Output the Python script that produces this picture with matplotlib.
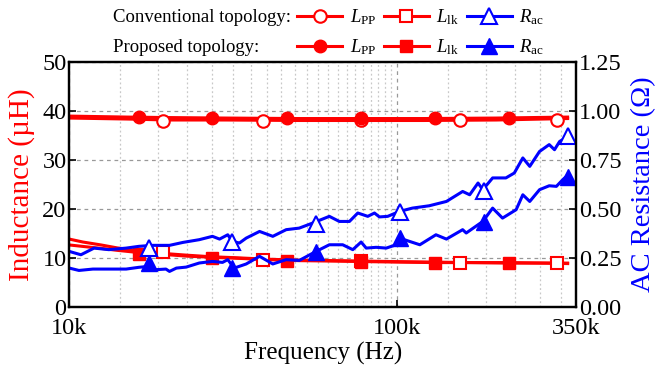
import matplotlib
matplotlib.use('Agg')
import matplotlib.pyplot as plt
from matplotlib.lines import Line2D
from matplotlib.ticker import FixedLocator, NullFormatter
import numpy as np

plt.rcParams['font.family'] = ['Liberation Serif', 'DejaVu Serif']
plt.rcParams['mathtext.fontset'] = 'custom'
plt.rcParams['mathtext.rm'] = 'Liberation Serif'
plt.rcParams['mathtext.it'] = 'Liberation Serif:italic'

# Inductance lines (kHz, uH)
lpp_f = [10, 15, 20, 30, 50, 80, 120, 200, 330]
lpp_conv = [38.5, 38.3, 38.1, 38.1, 38.0, 38.0, 38.0, 38.1, 38.4]
lpp_prop = [38.9, 38.7, 38.6, 38.5, 38.4, 38.4, 38.4, 38.5, 38.7]

llk_f = [10, 11, 12.5, 14, 16, 18, 20, 23, 27, 32, 40, 50, 65, 80, 100, 130, 170, 220, 280, 330]
llk_conv = [13.8, 13.2, 12.6, 12.0, 11.5, 11.1, 10.8, 10.5, 10.2, 10.0, 9.7, 9.5, 9.4, 9.3, 9.2, 9.1, 9.0, 9.0, 8.9, 8.9]
llk_prop = [12.6, 12.3, 11.9, 11.5, 11.1, 10.8, 10.6, 10.3, 10.1, 9.9, 9.6, 9.4, 9.3, 9.2, 9.1, 9.0, 9.0, 8.9, 8.9, 8.8]

# AC resistance (kHz, ohm)
rac_conv_f = [10.0, 10.85, 11.9, 13.2, 14.9, 16.3, 17.9, 20.2, 22.2, 24.9, 27.3, 28.7, 30.4, 31.4,
              33.0, 34.6, 38.0, 41.7, 45.8, 50.2, 55.2, 62, 66.5, 71.4, 75.7, 81.2, 85.1, 88.1,
              93.4, 101.4, 111, 125, 141, 158, 166, 176, 182, 195, 214, 227, 241, 253, 271,
              290, 301, 312, 331]
rac_conv = [0.282, 0.265, 0.299, 0.291, 0.299, 0.308, 0.313, 0.313, 0.328, 0.342, 0.359, 0.345,
            0.367, 0.333, 0.325, 0.350, 0.384, 0.359, 0.393, 0.401, 0.427, 0.461, 0.435, 0.435,
            0.478, 0.461, 0.478, 0.458, 0.461, 0.486, 0.503, 0.515, 0.537, 0.588, 0.571, 0.631,
            0.597, 0.657, 0.657, 0.682, 0.759, 0.716, 0.792, 0.827, 0.801, 0.843, 0.869]

rac_prop_f = [10.0, 10.7, 11.8, 13.2, 14.9, 16.3, 17.5, 18.4, 19.7, 20.2, 21.2, 22.7, 24.9, 27.3,
              29.3, 30.4, 31.8, 34.6, 38.0, 41.7, 45.8, 50.2, 56.5, 62, 68.1, 73.1, 77.5, 80.3,
              86.1, 92.4, 99.1, 101.4, 117, 131, 141, 158, 162, 182, 195, 209, 230, 241, 253,
              271, 290, 305, 319, 331]
rac_prop = [0.197, 0.185, 0.192, 0.192, 0.192, 0.201, 0.206, 0.189, 0.192, 0.180, 0.197, 0.202,
            0.223, 0.231, 0.226, 0.240, 0.197, 0.218, 0.257, 0.218, 0.240, 0.236, 0.282, 0.316,
            0.316, 0.291, 0.330, 0.299, 0.303, 0.299, 0.316, 0.350, 0.316, 0.367, 0.345, 0.393,
            0.376, 0.435, 0.503, 0.452, 0.495, 0.571, 0.537, 0.597, 0.617, 0.614, 0.648, 0.673]

# marker samples
mk_conv_f = [19.3, 38.8, 77.7, 155, 307]
mk_lpp_conv = [37.8, 37.9, 38.0, 38.0, 38.2]
mk_llk_conv = [11.2, 9.6, 9.3, 9.0, 9.0]
mk_prop_f = [16.3, 27.3, 46, 77.7, 130, 218]
mk_lpp_prop = [38.8, 38.6, 38.5, 38.5, 38.5, 38.6]
mk_llk_prop = [10.8, 10.0, 9.4, 9.2, 9.0, 8.9]
mk_rac_f = [17.5, 31.4, 56.6, 102, 183, 330]
mk_rac_conv = [0.30, 0.33, 0.42, 0.485, 0.59, 0.87]
mk_rac_prop = [0.225, 0.20, 0.28, 0.35, 0.43, 0.66]

hz = lambda v: np.array(v) * 1e3

fig = plt.figure(figsize=(6.62, 3.68), dpi=100)
ax = fig.add_axes([69.3 / 662, 1 - 306.7 / 368, (576 - 69.3) / 662, (306.7 - 61.7) / 368])
ax2 = ax.twinx()

red = '#ff0000'
blue = '#0000ff'
lw = 2.2

ax.plot(hz(lpp_f), lpp_conv, color=red, lw=lw)
ax.plot(hz(lpp_f), lpp_prop, color=red, lw=lw)
ax.plot(hz(llk_f), llk_conv, color=red, lw=lw)
ax.plot(hz(llk_f), llk_prop, color=red, lw=lw)
ax.plot(hz(mk_conv_f), mk_lpp_conv, ls='none', marker='o', ms=9, mfc='white', mec=red, mew=1.5)
ax.plot(hz(mk_prop_f), mk_lpp_prop, ls='none', marker='o', ms=9, mfc=red, mec=red)
ax.plot(hz(mk_conv_f), mk_llk_conv, ls='none', marker='s', ms=8, mfc='white', mec=red, mew=1.5)
ax.plot(hz(mk_prop_f), mk_llk_prop, ls='none', marker='s', ms=8, mfc=red, mec=red)

ax2.plot(hz(rac_conv_f), rac_conv, color=blue, lw=lw)
ax2.plot(hz(rac_prop_f), rac_prop, color=blue, lw=lw)
ax2.plot(hz(mk_rac_f), mk_rac_conv, ls='none', marker='^', ms=11, mfc='white', mec=blue, mew=1.5)
ax2.plot(hz(mk_rac_f), mk_rac_prop, ls='none', marker='^', ms=11, mfc=blue, mec=blue)

ax.set_xscale('log')
ax.set_xlim(1e4, 3.5e5)
ax.set_ylim(0, 50)
ax2.set_ylim(0, 1.25)
ax.set_xticks([1e4, 1e5, 3.5e5])
ax.set_xticklabels(['10k', '100k', '350k'])
minor = [d * (1 + 3 * k / 7) for d in (1e4, 1e5) for k in range(1, 21) if d * (1 + 3 * k / 7) < 3.5e5]
ax.xaxis.set_minor_locator(FixedLocator(minor))
ax.xaxis.set_minor_formatter(NullFormatter())
ax.set_yticks([0, 10, 20, 30, 40, 50])
ax2.set_yticks([0, 0.25, 0.5, 0.75, 1.0, 1.25])
ax2.set_yticklabels(['0.00', '0.25', '0.50', '0.75', '1.00', '1.25'])

ax.grid(axis='y', which='major', color='#999999', ls=(0, (3, 3)), lw=0.9)
ax.grid(axis='x', which='major', color='#999999', ls=(0, (3, 3)), lw=0.9)
ax.grid(axis='x', which='minor', color='#c8c8c8', ls=(0, (1.5, 2)), lw=0.9)
ax.set_axisbelow(True)

for a in (ax, ax2):
    a.tick_params(which='major', direction='in', length=5, width=1.2, labelsize=17.5, pad=2)
    a.tick_params(which='minor', length=0)
    for s in a.spines.values():
        s.set_linewidth(1.6)
ax.tick_params(axis='x', pad=8)

ax.set_xlabel('Frequency (Hz)', fontsize=18, labelpad=2)
ax.set_ylabel('Inductance (\u00b5H)', fontsize=21, color=red, labelpad=5)
ax2.set_ylabel('AC Resistance (\u03a9)', fontsize=20.5, color=blue, labelpad=7)

# legend rows
labels = [r'$L_{\rm PP}$', r'$L_{\rm lk}$', r'$R_{\rm ac}$']
h_conv = [Line2D([], [], color=red, lw=lw, marker='o', ms=9, mfc='white', mec=red, mew=1.5),
          Line2D([], [], color=red, lw=lw, marker='s', ms=8, mfc='white', mec=red, mew=1.5),
          Line2D([], [], color=blue, lw=lw, marker='^', ms=11, mfc='white', mec=blue, mew=1.5)]
h_prop = [Line2D([], [], color=red, lw=lw, marker='o', ms=9, mfc=red, mec=red),
          Line2D([], [], color=red, lw=lw, marker='s', ms=8, mfc=red, mec=red),
          Line2D([], [], color=blue, lw=lw, marker='^', ms=11, mfc=blue, mec=blue)]
for hs, yy, txt in ((h_conv, 17, 'Conventional topology:'), (h_prop, 47, 'Proposed topology:')):
    fig.text(113 / 662, 1 - yy / 368, txt, fontsize=13.5, va='center', ha='left')
    fig.legend(hs, labels, ncol=3, loc='center left', bbox_to_anchor=(297 / 662, 1 - yy / 368),
               frameon=False, fontsize=13.5, handlelength=2.4, handletextpad=0.4,
               columnspacing=0.4, borderpad=0, borderaxespad=0)

fig.savefig('out.png', dpi=100)
